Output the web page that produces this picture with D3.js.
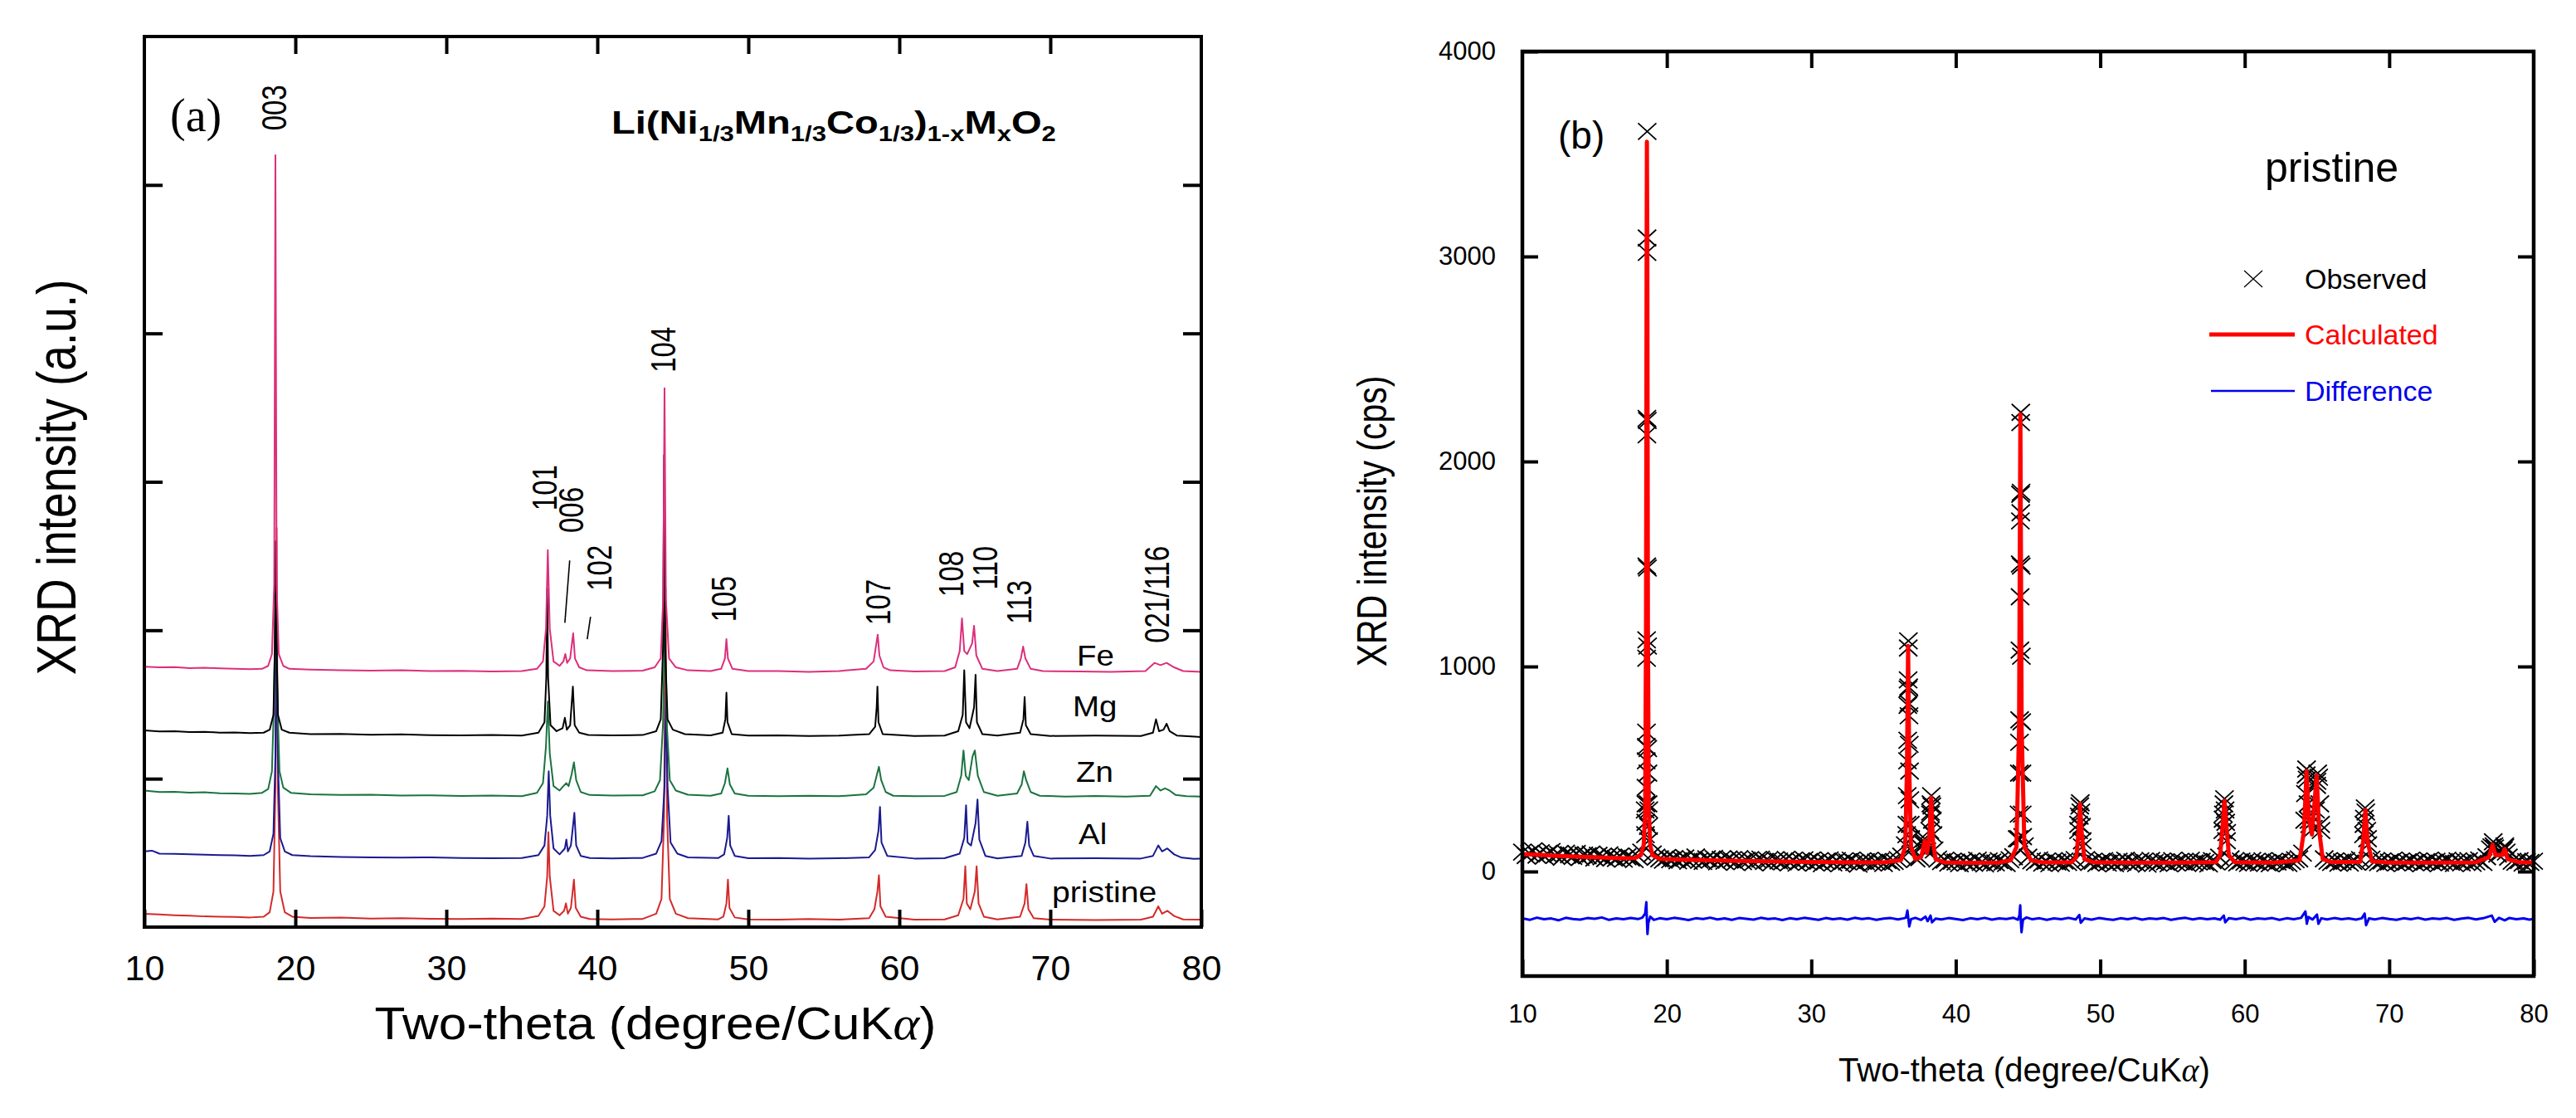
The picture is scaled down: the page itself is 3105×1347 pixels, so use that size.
<!DOCTYPE html>
<html>
<head>
<meta charset="utf-8">
<script src="https://cdn.jsdelivr.net/npm/d3@7"></script>
<style>
  body { margin: 0; background: #fff; }
  svg { display: block; }
</style>
</head>
<body>
<svg id="chart" width="3105" height="1347"></svg>
<script>
// ---------- panel (a): stacked XRD patterns, Li(Ni1/3Mn1/3Co1/3)1-xMxO2 ----------
const seriesNames = ['pristine', 'Al', 'Zn', 'Mg', 'Fe'];
const seriesOffsets = [0.04, 0.45, 0.87, 1.28, 1.71];   // vertical stacking (a.u.)

// [two-theta, intensity a.u. above own baseline]
const prData = [
  [10,0.05],[11,0.045],[12,0.04],[13,0.037],[14,0.032],[15,0.03],[16,0.028],[17,0.025],[17.9,0.03],[18.3,0.06],
  [18.55,0.2],[18.68,0.9],[18.76,2.65],[18.84,0.9],[19.0,0.2],[19.3,0.06],[19.8,0.03],[21,0.022],[23,0.025],[25,0.018],
  [27,0.02],[29,0.016],[31,0.015],[33,0.018],[35,0.014],[36.1,0.035],[36.5,0.1],[36.68,0.3],[36.76,0.6],[36.85,0.3],
  [37.1,0.07],[37.5,0.04],[37.8,0.07],[37.92,0.12],[38.05,0.05],[38.25,0.09],[38.45,0.28],[38.57,0.09],[38.9,0.03],[39.5,0.015],
  [41,0.012],[43,0.015],[43.9,0.05],[44.25,0.15],[44.42,0.7],[44.52,2.25],[44.62,0.7],[44.8,0.15],[45.2,0.05],[46,0.02],
  [48,0.012],[48.35,0.03],[48.55,0.12],[48.65,0.28],[48.75,0.09],[49.1,0.025],[50,0.012],[52,0.01],[54,0.014],[56,0.01],
  [58,0.02],[58.35,0.08],[58.55,0.2],[58.65,0.31],[58.75,0.1],[59.1,0.03],[61,0.01],[63,0.012],[63.9,0.04],[64.25,0.15],
  [64.37,0.37],[64.47,0.12],[64.7,0.08],[65.0,0.2],[65.12,0.37],[65.25,0.12],[65.6,0.03],[66.5,0.012],[68.0,0.03],[68.3,0.12],
  [68.42,0.25],[68.55,0.08],[68.9,0.02],[70,0.01],[73,0.008],[76,0.01],[76.8,0.03],[77.15,0.1],[77.4,0.05],[77.75,0.07],
  [78.2,0.035],[78.8,0.012],[80,0.01]
];
const alData = [
  [10,0.06],[10.5,0.065],[11,0.045],[12,0.044],[13,0.04],[14,0.038],[15,0.035],[16,0.033],[17,0.03],[17.9,0.035],
  [18.3,0.06],[18.55,0.18],[18.68,0.7],[18.76,1.6],[18.84,0.7],[19.0,0.15],[19.3,0.06],[19.8,0.035],[21,0.028],[23,0.022],
  [25,0.02],[27,0.018],[29,0.02],[31,0.015],[33,0.014],[35,0.016],[36.1,0.035],[36.5,0.1],[36.68,0.3],[36.78,0.6],
  [36.88,0.3],[37.1,0.08],[37.5,0.04],[37.85,0.08],[37.95,0.14],[38.05,0.06],[38.25,0.1],[38.48,0.32],[38.6,0.1],[38.9,0.03],
  [39.5,0.015],[41,0.013],[43,0.016],[43.9,0.045],[44.25,0.13],[44.45,0.5],[44.55,1.13],[44.65,0.5],[44.85,0.12],[45.3,0.045],
  [46,0.02],[48,0.015],[48.4,0.04],[48.6,0.15],[48.7,0.3],[48.8,0.1],[49.1,0.03],[50,0.014],[52,0.016],[54,0.012],
  [56,0.014],[58,0.02],[58.4,0.07],[58.62,0.2],[58.72,0.36],[58.82,0.12],[59.2,0.03],[61,0.012],[63,0.014],[64.0,0.045],
  [64.3,0.15],[64.42,0.37],[64.52,0.12],[64.75,0.1],[65.05,0.25],[65.18,0.41],[65.3,0.14],[65.7,0.03],[66.5,0.013],[68.1,0.03],
  [68.35,0.12],[68.48,0.26],[68.6,0.1],[68.9,0.03],[70,0.012],[73,0.014],[76,0.012],[76.8,0.03],[77.15,0.1],[77.4,0.06],
  [77.75,0.08],[78.2,0.04],[78.7,0.018],[79.5,0.01],[80,0.012]
];
const znData = [
  [10,0.05],[11,0.04],[12,0.042],[13,0.036],[14,0.038],[15,0.032],[16,0.03],[17,0.028],[17.8,0.035],[18.2,0.06],
  [18.45,0.18],[18.6,0.7],[18.7,1.55],[18.8,0.7],[18.95,0.18],[19.2,0.07],[19.7,0.035],[21,0.025],[23,0.02],[25,0.022],
  [27,0.016],[29,0.018],[31,0.014],[33,0.016],[35,0.012],[36,0.035],[36.4,0.1],[36.6,0.35],[36.72,0.65],[36.85,0.3],
  [37.1,0.08],[37.5,0.05],[37.75,0.08],[37.95,0.1],[38.1,0.08],[38.3,0.16],[38.45,0.24],[38.6,0.12],[38.9,0.04],[39.5,0.02],
  [41,0.016],[43,0.018],[43.8,0.045],[44.15,0.12],[44.35,0.5],[44.47,1.18],[44.6,0.5],[44.8,0.12],[45.2,0.05],[46,0.022],
  [47.5,0.015],[48.2,0.03],[48.45,0.1],[48.62,0.2],[48.78,0.09],[49.1,0.03],[50,0.015],[52,0.012],[54,0.015],[56,0.012],
  [57.8,0.025],[58.3,0.07],[58.5,0.15],[58.65,0.21],[58.8,0.12],[59.1,0.04],[59.6,0.015],[61,0.012],[63,0.014],[63.8,0.04],
  [64.1,0.15],[64.25,0.32],[64.4,0.15],[64.6,0.12],[64.85,0.28],[65.0,0.32],[65.2,0.15],[65.6,0.04],[66.5,0.015],[67.8,0.03],
  [68.1,0.09],[68.25,0.18],[68.4,0.12],[68.7,0.04],[69.3,0.015],[71,0.01],[73,0.014],[75,0.01],[76.6,0.015],[77.0,0.08],
  [77.3,0.05],[77.6,0.065],[77.9,0.05],[78.3,0.02],[79,0.012],[80,0.01]
];
const mgData = [
  [10,0.045],[11,0.038],[12,0.04],[13,0.034],[14,0.036],[15,0.03],[16,0.031],[17,0.027],[17.9,0.03],[18.3,0.05],
  [18.55,0.15],[18.64,0.6],[18.7,1.32],[18.76,0.6],[18.85,0.15],[19.1,0.05],[19.6,0.03],[21,0.02],[23,0.022],[25,0.016],
  [27,0.018],[29,0.013],[31,0.012],[33,0.014],[35,0.01],[36.1,0.03],[36.5,0.1],[36.62,0.4],[36.68,1.0],[36.74,0.4],
  [36.9,0.08],[37.3,0.04],[37.7,0.06],[37.85,0.13],[37.98,0.05],[38.2,0.08],[38.38,0.34],[38.5,0.08],[38.8,0.03],[39.4,0.015],
  [41,0.012],[43,0.014],[43.9,0.04],[44.2,0.12],[44.35,0.6],[44.42,1.9],[44.49,0.6],[44.65,0.12],[45.0,0.05],[45.8,0.02],
  [47.5,0.012],[48.3,0.03],[48.48,0.12],[48.55,0.3],[48.62,0.1],[48.9,0.02],[50,0.01],[52,0.012],[54,0.008],[56,0.01],
  [58,0.02],[58.4,0.07],[58.5,0.2],[58.55,0.34],[58.62,0.1],[58.9,0.02],[61,0.008],[63,0.01],[63.9,0.04],[64.2,0.15],
  [64.3,0.45],[64.42,0.1],[64.65,0.06],[64.95,0.2],[65.05,0.42],[65.14,0.1],[65.5,0.02],[66.5,0.01],[68.0,0.03],[68.22,0.12],
  [68.3,0.27],[68.38,0.08],[68.7,0.02],[70,0.008],[73,0.01],[76,0.008],[76.8,0.03],[77.0,0.12],[77.2,0.04],[77.5,0.05],
  [77.7,0.09],[77.9,0.04],[78.4,0.01],[80,0.0]
];
const feData = [
  [10,0.045],[11,0.04],[12,0.042],[13,0.035],[14,0.037],[15,0.033],[16,0.03],[17,0.028],[17.8,0.03],[18.2,0.05],
  [18.45,0.13],[18.6,0.6],[18.68,3.49],[18.76,0.6],[18.9,0.13],[19.2,0.05],[19.6,0.03],[21,0.025],[23,0.02],[25,0.018],
  [27,0.02],[29,0.015],[31,0.017],[33,0.012],[35,0.015],[36,0.03],[36.4,0.08],[36.6,0.3],[36.72,0.83],[36.85,0.3],
  [37.1,0.08],[37.5,0.05],[37.75,0.08],[37.88,0.13],[38.0,0.07],[38.2,0.1],[38.4,0.27],[38.52,0.1],[38.8,0.04],[39.3,0.02],
  [41,0.015],[43,0.018],[43.8,0.04],[44.2,0.1],[44.36,0.5],[44.45,1.92],[44.54,0.5],[44.75,0.1],[45.2,0.04],[46,0.02],
  [47.5,0.015],[48.2,0.03],[48.45,0.1],[48.55,0.23],[48.65,0.1],[48.95,0.03],[50,0.015],[52,0.015],[54,0.01],[56,0.015],
  [57.8,0.03],[58.3,0.08],[58.48,0.2],[58.57,0.26],[58.68,0.12],[58.95,0.04],[59.4,0.02],[61,0.012],[63,0.015],[63.7,0.04],
  [64.0,0.15],[64.15,0.37],[64.3,0.15],[64.5,0.13],[64.82,0.2],[64.95,0.32],[65.1,0.12],[65.5,0.03],[66.5,0.015],[67.8,0.03],
  [68.05,0.1],[68.2,0.18],[68.35,0.1],[68.7,0.03],[69.5,0.015],[72,0.012],[74,0.01],[76.3,0.015],[76.9,0.07],[77.3,0.055],
  [77.7,0.07],[78.2,0.04],[78.8,0.015],[80,0.01]
];
const seriesData = [prData, alData, znData, mgData, feData];

// Miller indices and the two-theta they are written at
const peakHkl = ['003', '101', '006', '102', '104', '105', '107', '108', '110', '113', '021/116'];
const peakTheta = [18.57, 36.48, 38.24, 40.11, 44.29, 48.3, 58.52, 63.4, 65.64, 67.9, 76.99];

const xTicksA = [10, 20, 30, 40, 50, 60, 70, 80];
const yTicksA = [1, 2, 3, 4, 5];

// ---------- panel (b): Rietveld fit of the pristine sample ----------
// observed counts on a 0.25 deg grid from 10 to 80 (four values per degree)
const obsStep = 0.25;
const obsBase = [
  95,78,88,101, 80,92,75,86, 98,79,84,70, 90,82,74,88, 69,80,77,85,        // 10-14
  66,79,72,63, 81,70,64,75, 60,72,66,58, 74,95,300,300, 85,70,62,55,       // 15-19
  68,57,63,52, 60,66,50,58, 71,54,49,62, 55,64,47,59, 50,61,56,45,         // 20-24
  63,48,55,58, 44,57,60,49, 53,42,58,51, 47,59,45,54, 41,52,57,46,         // 25-29
  55,43,50,38, 49,56,42,53, 40,51,47,55, 44,36,52,48, 54,41,46,50,         // 30-34
  39,53,45,49, 58,75,130,820, 110,62,68,140, 100,290,105,60, 48,55,41,50,  // 35-39
  46,38,52,43, 49,40,55,44, 37,51,46,42, 53,45,39,57, 72,160,1750,125,     // 40-44
  70,52,45,56, 41,49,38,53, 46,40,51,44, 49,58,230,120, 58,44,50,39,       // 45-49
  47,53,41,48, 38,50,45,55, 42,47,39,52, 49,36,54,44, 40,51,47,38,         // 50-54
  53,43,49,45, 39,55,42,48, 50,44,37,53, 47,70,255,190, 62,48,42,51,       // 55-59
  45,39,54,47, 41,52,44,38, 50,46,53,43, 39,48,57,62, 90,470,230,210,      // 60-64
  440,230,62,50, 44,52,40,47, 53,41,49,45, 58,230,160,60, 48,43,51,39,     // 65-69
  46,54,42,49, 40,47,55,44, 51,38,46,53, 43,50,41,48, 55,45,39,52,         // 70-74
  42,49,53,40, 47,56,44,72, 110,125,85,95, 118,70,50,45, 53,41,48,44,      // 75-79
  50                                                                        // 80
];
// extra observed points on the flanks of the reflections [two-theta, cps]
const obsPeaks = [
  [18.52,180],[18.54,240],[18.55,330],[18.56,410],[18.57,540],[18.58,610],[18.59,680],[18.60,1040],[18.60,1130],[18.61,1490],
  [18.62,2130],[18.62,2210],[18.63,3020],[18.63,3090],[18.64,3610],[18.65,2200],[18.66,1480],[18.67,1100],[18.68,600],[18.69,480],
  [18.70,330],[18.72,220],[18.74,150],
  [36.60,180],[36.62,230],[36.64,370],[36.66,540],[36.67,640],[36.68,810],[36.69,890],[36.70,935],[36.71,1090],[36.72,1125],
  [36.74,900],[36.76,760],[36.78,620],[36.80,490],[36.82,350],[36.85,230],[36.88,160],
  [37.80,130],[37.85,160],[37.90,140],[38.20,200],[38.25,280],[38.28,330],[38.31,370],[38.34,320],[38.38,250],[38.42,180],
  [44.36,160],[44.38,280],[44.40,480],[44.41,630],[44.42,740],[44.44,1080],[44.45,1340],[44.46,1500],[44.47,1710],[44.48,1840],
  [44.49,2190],[44.50,2240],[44.52,1850],[44.53,1490],[44.54,1050],[44.56,730],[44.58,480],[44.60,280],[44.63,170],
  [48.50,200],[48.55,270],[48.58,320],[48.62,335],[48.66,290],[48.70,220],[48.75,150],
  [58.48,200],[58.52,280],[58.56,330],[58.60,355],[58.64,300],[58.68,240],[58.74,150],
  [64.15,250],[64.20,380],[64.25,470],[64.28,500],[64.32,450],[64.38,330],[64.45,250],
  [64.90,300],[64.98,420],[65.05,480],[65.12,460],[65.20,330],[65.28,200],
  [68.22,180],[68.28,260],[68.33,310],[68.38,290],[68.45,200],[68.52,130],
  [77.10,120],[77.20,145],[77.30,115],[77.90,105],[78.00,125],[78.10,95]
];
const calcData = [
  [10,85],[11,82],[12,78],[13,75],[14,72],[15,70],[16,67],[17,65],[17.8,66],[18.2,80],
  [18.4,130],[18.5,300],[18.56,1200],[18.6,3000],[18.62,3560],[18.65,3000],[18.69,1200],[18.75,300],[18.85,130],[19.0,80],
  [19.5,62],[21,58],[23,55],[25,52],[27,50],[30,47],[33,45],[35,45],[36.2,55],[36.5,120],
  [36.62,500],[36.7,1100],[36.78,500],[36.9,120],[37.2,60],[37.6,70],[37.85,150],[38.0,90],[38.15,150],[38.3,360],
  [38.42,150],[38.6,60],[39.2,45],[41,43],[43,44],[43.8,55],[44.2,120],[44.38,700],[44.47,2230],[44.56,700],
  [44.75,120],[45.2,55],[46,45],[48,45],[48.35,70],[48.5,200],[48.6,330],[48.7,200],[48.9,60],[49.5,45],
  [52,44],[55,44],[58,46],[58.3,80],[58.5,250],[58.6,345],[58.7,250],[58.9,80],[59.3,46],[62,44],
  [63.8,55],[64.1,200],[64.28,490],[64.45,250],[64.65,180],[64.98,470],[65.15,200],[65.4,60],[66,46],[68,48],
  [68.2,150],[68.35,300],[68.5,150],[68.8,50],[70,44],[73,44],[76,45],[76.9,70],[77.15,130],[77.35,80],
  [77.8,80],[78.0,110],[78.2,60],[79,45],[80,44]
];
const diffData = [
  [10,-228],[10.5,-236],[11,-225],[11.5,-233],[12,-229],[12.5,-238],[13,-226],[13.5,-232],[14,-235],[14.5,-227],
  [15,-231],[15.5,-224],[16,-236],[16.5,-229],[17,-233],[17.5,-227],[18,-232],[18.3,-225],[18.5,-205],[18.58,-150],
  [18.62,-240],[18.66,-305],[18.72,-250],[18.85,-220],[19.1,-236],[19.5,-228],[20,-233],[20.5,-226],[21,-231],[21.5,-237],
  [22,-228],[22.5,-232],[23,-225],[23.5,-234],[24,-229],[24.5,-236],[25,-227],[25.5,-231],[26,-235],[26.5,-226],
  [27,-232],[27.5,-229],[28,-237],[28.5,-228],[29,-233],[29.5,-226],[30,-231],[30.5,-236],[31,-227],[31.5,-233],
  [32,-229],[32.5,-235],[33,-226],[33.5,-232],[34,-228],[34.5,-236],[35,-230],[35.5,-227],[36,-234],[36.4,-228],
  [36.55,-225],[36.65,-190],[36.72,-232],[36.78,-268],[36.9,-232],[37.2,-226],[37.6,-236],[37.9,-220],[38.05,-242],[38.25,-215],
  [38.35,-248],[38.6,-230],[39,-234],[39.5,-227],[40,-232],[40.5,-237],[41,-228],[41.5,-233],[42,-226],[42.5,-235],
  [43,-229],[43.5,-232],[44,-226],[44.3,-235],[44.4,-215],[44.46,-165],[44.5,-240],[44.55,-296],[44.65,-235],[44.9,-224],
  [45.3,-233],[45.8,-228],[46.3,-236],[46.8,-229],[47.3,-233],[47.8,-226],[48.3,-234],[48.55,-212],[48.65,-250],[48.9,-229],
  [49.4,-235],[49.9,-227],[50.4,-232],[50.9,-236],[51.4,-228],[51.9,-233],[52.4,-226],[52.9,-235],[53.4,-229],[53.9,-232],
  [54.4,-227],[54.9,-236],[55.4,-230],[55.9,-226],[56.4,-234],[56.9,-228],[57.4,-233],[57.9,-229],[58.3,-235],[58.55,-215],
  [58.65,-248],[58.9,-228],[59.4,-233],[59.9,-226],[60.4,-235],[60.9,-229],[61.4,-232],[61.9,-227],[62.4,-236],[62.9,-228],
  [63.4,-233],[63.9,-226],[64.2,-195],[64.3,-255],[64.4,-222],[64.7,-234],[65.0,-210],[65.1,-255],[65.3,-228],[65.7,-234],
  [66.2,-227],[66.7,-233],[67.2,-229],[67.7,-235],[68.1,-228],[68.3,-205],[68.4,-262],[68.6,-229],[69,-234],[69.5,-227],
  [70,-232],[70.5,-236],[71,-228],[71.5,-233],[72,-226],[72.5,-235],[73,-229],[73.5,-232],[74,-227],[74.5,-236],
  [75,-230],[75.5,-226],[76,-234],[76.5,-228],[77.1,-215],[77.3,-245],[77.6,-226],[78,-238],[78.3,-227],[78.8,-233],
  [79.3,-229],[79.7,-235],[80,-231]
];
const xTicksB = [10, 20, 30, 40, 50, 60, 70, 80];
const yTicksB = [0, 1000, 2000, 3000, 4000];
const legendNames = ['Observed', 'Calculated', 'Difference'];

// ---------- drawing ----------
const SANS = "'Liberation Sans', Arial, Helvetica, sans-serif";
const SERIF = "'Liberation Serif', 'Times New Roman', serif";
const seriesColors = ['#d42a2a', '#1a1a90', '#1b7340', '#000000', '#dc2f7c'];

const svg = d3.select('#chart');
svg.append('rect').attr('width', 3105).attr('height', 1347).attr('fill', '#fff');

// text with an optional horizontal stretch in screen space, optionally rotated
function label(g, txt, x, y, o) {
  const t = g.append('text')
    .attr('transform', `translate(${x},${y}) scale(${o.sx || 1},1)` + (o.rot ? ' rotate(-90)' : ''))
    .attr('text-anchor', o.anchor || 'start')
    .attr('font-size', o.size)
    .attr('font-family', o.family || SANS)
    .attr('fill', o.fill || '#000')
    .text(txt);
  if (o.weight) t.attr('font-weight', o.weight);
  if (o.dy) t.attr('dy', o.dy);
  return t;
}

function styleAxis(sel, width) {
  sel.select('.domain').remove();
  sel.selectAll('.tick line').attr('stroke', '#000').attr('stroke-width', width);
}

// ===== panel (a) =====
const A = { left: 174, right: 1448, top: 44, bottom: 1117 };
const xA = d3.scaleLinear().domain([10, 80]).range([A.left, A.right]);
const yA = d3.scaleLinear().domain([0, 6]).range([A.bottom, A.top]);
const gA = svg.append('g');

const clipA = svg.append('clipPath').attr('id', 'clipA');
clipA.append('rect').attr('x', A.left).attr('y', A.top).attr('width', A.right - A.left).attr('height', A.bottom - A.top);

const traces = gA.append('g').attr('clip-path', 'url(#clipA)');
seriesData.forEach((data, i) => {
  const line = d3.line()
    .x(d => xA(d[0]))
    .y(d => yA(d[1] + seriesOffsets[i]));
  traces.append('path')
    .attr('d', line(data))
    .attr('fill', 'none')
    .attr('stroke', seriesColors[i])
    .attr('stroke-width', 2)
    .attr('stroke-linejoin', 'round');
});

// axes (ticks point inward, labels only on the bottom)
const axA = gA.append('g').attr('transform', `translate(0,${A.bottom})`)
  .call(d3.axisBottom(xA).tickValues(xTicksA).tickSize(-21).tickPadding(33));
styleAxis(axA, 4);
axA.selectAll('.tick text').attr('font-size', 43).attr('font-family', SANS).attr('fill', '#000');
styleAxis(gA.append('g').attr('transform', `translate(0,${A.top})`)
  .call(d3.axisTop(xA).tickValues(xTicksA.slice(1, -1)).tickSize(-21).tickFormat('')), 4);
styleAxis(gA.append('g').attr('transform', `translate(${A.left},0)`)
  .call(d3.axisLeft(yA).tickValues(yTicksA).tickSize(-22).tickFormat('')), 4);
styleAxis(gA.append('g').attr('transform', `translate(${A.right},0)`)
  .call(d3.axisRight(yA).tickValues(yTicksA).tickSize(-22).tickFormat('')), 4);
gA.append('rect').attr('x', A.left).attr('y', A.top)
  .attr('width', A.right - A.left).attr('height', A.bottom - A.top)
  .attr('fill', 'none').attr('stroke', '#000').attr('stroke-width', 4);

// peak labels (rotated) and the two leader lines
const peakLevel = [5.52, 2.96, 2.81, 2.42, 3.89, 2.21, 2.19, 2.38, 2.42, 2.19, 2.24];
peakHkl.forEach((h, i) => {
  label(gA, h, xA(peakTheta[i]), yA(peakLevel[i]), { size: 33, sx: 1.3, rot: true, anchor: 'middle', dy: '0.36em' });
});
[[38.17, 2.47, 37.85, 2.05], [39.55, 2.09, 39.33, 1.94]].forEach(l => {
  gA.append('line')
    .attr('x1', xA(l[0])).attr('y1', yA(l[1])).attr('x2', xA(l[2])).attr('y2', yA(l[3]))
    .attr('stroke', '#000').attr('stroke-width', 1.6);
});

// series names at the right
const nameX = [1268, 1300, 1297, 1293, 1298];
const nameY = [1087, 1017, 942, 863, 802];
seriesNames.forEach((n, i) => {
  label(gA, n, nameX[i], nameY[i], { size: 35, sx: i === 0 ? 1.12 : 1.1 });
});

label(gA, '(a)', 205, 158, { size: 56, family: SERIF });

// compound formula
const title = gA.append('text')
  .attr('x', 0).attr('y', 0)
  .attr('font-family', SANS).attr('font-weight', 'bold').attr('font-size', 38);
const parts = [['Li(Ni', 0], ['1/3', 1], ['Mn', 0], ['1/3', 1], ['Co', 0], ['1/3', 1], [')', 0], ['1-x', 1], ['M', 0], ['x', 1], ['O', 0], ['2', 1]];
let low = false;
parts.forEach(p => {
  const sub = p[1] === 1;
  const ts = title.append('tspan').text(p[0]);
  if (sub) ts.attr('font-size', 25);
  if (sub !== low) ts.attr('dy', sub ? 9 : -9);
  low = sub;
});
const tw = title.node().getBBox().width;
title.attr('transform', `translate(737,161) scale(${536 / tw},1)`);

label(gA, 'XRD intensity (a.u.)', 67, 575, { size: 55, sx: 1.22, rot: true, anchor: 'middle', dy: '0.36em' });
const xlabA = label(gA, 'Two-theta (degree/CuK', 790, 1252, { size: 56, sx: 1.08, anchor: 'middle' });
xlabA.append('tspan').attr('font-family', SERIF).attr('font-style', 'italic').text('α');
xlabA.append('tspan').text(')');

// ===== panel (b) =====
const B = { left: 1835, right: 3054, top: 62, bottom: 1176 };
const xB = d3.scaleLinear().domain([10, 80]).range([B.left, B.right]);
const yB = d3.scaleLinear().domain([-510, 4000]).range([B.bottom, B.top]);
const gB = svg.append('g');

const clipB = svg.append('clipPath').attr('id', 'clipB');
clipB.append('rect').attr('x', B.left - 12).attr('y', B.top).attr('width', B.right - B.left + 24).attr('height', B.bottom - B.top);

const plotB = gB.append('g').attr('clip-path', 'url(#clipB)');
const cross = 'M-11,-10L11,10M-11,10L11,-10';
const obsPoints = obsBase.map((v, i) => [10 + i * obsStep, v]).concat(obsPeaks);
plotB.append('g').selectAll('path')
  .data(obsPoints)
  .join('path')
  .attr('transform', d => `translate(${xB(d[0])},${yB(d[1])})`)
  .attr('d', cross)
  .attr('fill', 'none')
  .attr('stroke', '#000')
  .attr('stroke-width', 1.8);

const lineB = d3.line().x(d => xB(d[0])).y(d => yB(d[1]));
plotB.append('path').attr('d', lineB(calcData))
  .attr('fill', 'none').attr('stroke', '#ff0000').attr('stroke-width', 5).attr('stroke-linejoin', 'round');
plotB.append('path').attr('d', lineB(diffData))
  .attr('fill', 'none').attr('stroke', '#0000ee').attr('stroke-width', 3).attr('stroke-linejoin', 'round');

const axB = gB.append('g').attr('transform', `translate(0,${B.bottom})`)
  .call(d3.axisBottom(xB).tickValues(xTicksB).tickSize(-20).tickPadding(34));
styleAxis(axB, 4);
axB.selectAll('.tick text').attr('font-size', 31).attr('font-family', SANS).attr('fill', '#000');
const ayB = gB.append('g').attr('transform', `translate(${B.left},0)`)
  .call(d3.axisLeft(yB).tickValues(yTicksB).tickSize(-19).tickPadding(32).tickFormat(d3.format('d')));
styleAxis(ayB, 4);
ayB.selectAll('.tick text').attr('font-size', 31).attr('font-family', SANS).attr('fill', '#000');
styleAxis(gB.append('g').attr('transform', `translate(0,${B.top})`)
  .call(d3.axisTop(xB).tickValues(xTicksB.slice(1, -1)).tickSize(-20).tickFormat('')), 4);
styleAxis(gB.append('g').attr('transform', `translate(${B.right},0)`)
  .call(d3.axisRight(yB).tickValues(yTicksB.slice(0, -1)).tickSize(-19).tickFormat('')), 4);
gB.append('rect').attr('x', B.left).attr('y', B.top)
  .attr('width', B.right - B.left).attr('height', B.bottom - B.top)
  .attr('fill', 'none').attr('stroke', '#000').attr('stroke-width', 4.5);

label(gB, '(b)', 1878, 179, { size: 46 });
label(gB, 'pristine', 2730, 219, { size: 50 });

// legend
const legY = [336, 403, 471];
const legColors = ['#000', '#ff0000', '#0000ee'];
gB.append('path').attr('transform', `translate(2716,${legY[0]})`).attr('d', cross)
  .attr('fill', 'none').attr('stroke', '#000').attr('stroke-width', 1.3);
gB.append('line').attr('x1', 2663).attr('x2', 2766).attr('y1', legY[1]).attr('y2', legY[1])
  .attr('stroke', legColors[1]).attr('stroke-width', 5);
gB.append('line').attr('x1', 2665).attr('x2', 2766).attr('y1', legY[2]).attr('y2', legY[2])
  .attr('stroke', legColors[2]).attr('stroke-width', 2.5);
legendNames.forEach((n, i) => {
  label(gB, n, 2778, legY[i], { size: 34, fill: legColors[i], dy: '0.36em' });
});

label(gB, 'XRD intensity (cps)', 1653, 628, { size: 41, sx: 1.2, rot: true, anchor: 'middle', dy: '0.36em' });
const xlabB = label(gB, 'Two-theta (degree/CuK', 2440, 1303, { size: 40, anchor: 'middle' });
xlabB.append('tspan').attr('font-family', SERIF).attr('font-style', 'italic').text('α');
xlabB.append('tspan').text(')');
</script>
</body>
</html>
